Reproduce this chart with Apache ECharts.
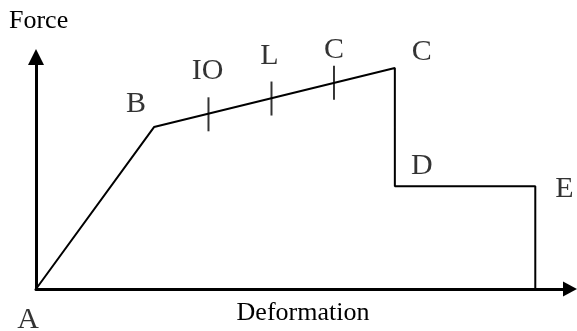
<!DOCTYPE html>
<html>
<head>
<meta charset="utf-8">
<script src="https://cdn.jsdelivr.net/npm/echarts@6/dist/echarts.min.js"></script>
<style>
html,body{margin:0;padding:0;background:#fff;}
#chart{width:577px;height:331px;}
</style>
</head>
<body>
<div id="chart"></div>
<script>
// Backbone curve (deformation, force) in arbitrary units
var curveX = [0, 2.21, 6.72, 6.72, 9.35, 9.35];
var curveY = [0, 6.98, 9.53, 4.43, 4.43, 0];
// Performance-level ticks on the B-C branch
var tickNames = ['IO', 'L', 'C'];
var tickX = [3.23, 4.41, 5.58];
var tickY = [7.53, 8.21, 8.89];
// Point labels
var pointNames = ['A', 'B', 'C', 'D', 'E'];
var pointIdx = [0, 1, 2, 3, 4];
var axisNames = ['Deformation', 'Force'];

var FONT = '"Liberation Serif", "Times New Roman", serif';
var labelOffsets = {A: [-8, 31], B: [-18, -23], C: [27, -16], D: [27, -20], E: [29, 3]};
var tickOffsets = {IO: [-1, -43], L: [-2, -42], C: [0, -33]};

var curveData = curveX.map(function (x, i) { return [x, curveY[i]]; });
var tickData = tickX.map(function (x, i) {
  return {value: [x, tickY[i]], name: tickNames[i],
    label: {offset: tickOffsets[tickNames[i]]}};
});
var pointData = pointIdx.map(function (idx, i) {
  return {value: curveData[idx], name: pointNames[i],
    label: {offset: labelOffsets[pointNames[i]]}};
});

var chart = echarts.init(document.getElementById('chart'), null, {renderer: 'canvas'});
chart.setOption({
  animation: false,
  backgroundColor: '#fff',
  grid: {left: 36, right: 7, top: 57, bottom: 39, containLabel: false},
  xAxis: {
    type: 'value', min: 0, max: 10,
    name: axisNames[0], nameLocation: 'middle', nameGap: 11,
    nameTextStyle: {fontFamily: FONT, fontSize: 26, color: '#000', verticalAlign: 'top'},
    axisLine: {show: true, onZero: false, symbol: ['none', 'triangle'], symbolSize: [15, 14],
      lineStyle: {color: '#000', width: 3}},
    axisTick: {show: false}, axisLabel: {show: false}, splitLine: {show: false}
  },
  yAxis: {
    type: 'value', min: 0, max: 10,
    name: axisNames[1], nameLocation: 'end', nameGap: 23,
    nameTextStyle: {fontFamily: FONT, fontSize: 26, color: '#000', align: 'left', padding: [0, 0, 0, -27]},
    axisLine: {show: true, onZero: false, symbol: ['none', 'triangle'], symbolSize: [16, 16],
      lineStyle: {color: '#000', width: 3}},
    axisTick: {show: false}, axisLabel: {show: false}, splitLine: {show: false}
  },
  series: [
    {
      type: 'line', data: curveData, showSymbol: false, symbol: 'none',
      lineStyle: {color: '#000', width: 2}, z: 3, silent: true
    },
    {
      type: 'scatter', data: tickData, symbol: 'rect', symbolSize: [2, 34],
      itemStyle: {color: '#000'}, z: 4, silent: true,
      label: {show: true, position: 'inside', formatter: '{b}', fontFamily: FONT,
        fontSize: 30, color: '#000', align: 'center', verticalAlign: 'middle'}
    },
    {
      type: 'scatter', data: pointData, symbolSize: 0, z: 5, silent: true,
      label: {show: true, position: 'inside', formatter: '{b}', fontFamily: FONT,
        fontSize: 30, color: '#000', align: 'center', verticalAlign: 'middle'}
    }
  ]
});
</script>
</body>
</html>
